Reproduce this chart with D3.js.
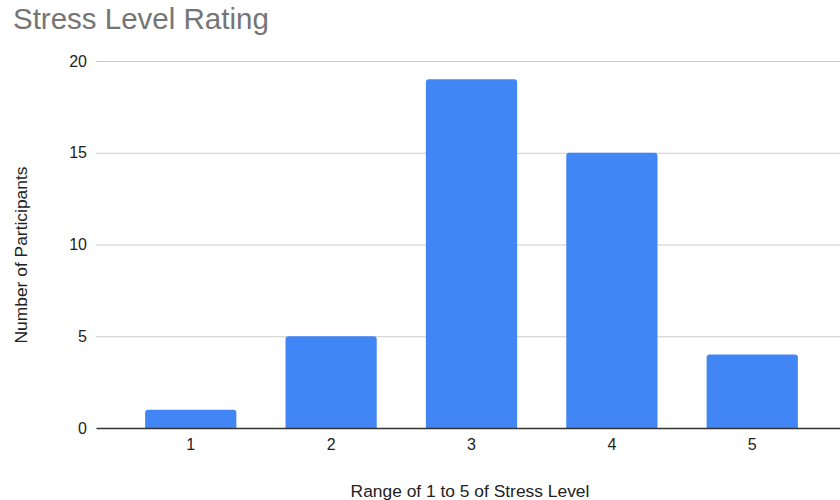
<!DOCTYPE html>
<html>
<head>
<meta charset="utf-8">
<script src="https://cdn.jsdelivr.net/npm/d3@7"></script>
<style>
  html, body { margin: 0; padding: 0; background: #fff; }
  svg { display: block; font-family: "Liberation Sans", Arial, sans-serif; }
</style>
</head>
<body>
<svg id="chart" width="840" height="500"></svg>
<script>
// Stress level ratings (1–5) and how many participants chose each
const levels = ["1", "2", "3", "4", "5"];
const participants = [1, 5, 19, 15, 4];
const yTicks = [0, 5, 10, 15, 20];

const svg = d3.select("#chart");
const plot = { left: 96, right: 847, top: 61, bottom: 428 };
const FONT = "Liberation Sans, Arial, sans-serif";

const x = d3.scaleBand()
  .domain(levels)
  .range([plot.left, plot.right])
  .paddingInner(0.35)
  .paddingOuter(0.35);

const y = d3.scaleLinear()
  .domain([0, 20])
  .range([plot.bottom, plot.top]);

// Title
svg.append("text")
  .attr("x", 13)
  .attr("y", 29)
  .attr("font-size", 29.5)
  .attr("fill", "#757575")
  .text("Stress Level Rating");

// Horizontal gridlines with value labels
const yAxis = d3.axisLeft(y).tickValues(yTicks).tickSize(0).tickPadding(9);
const gy = svg.append("g").attr("transform", `translate(${plot.left},0)`).call(yAxis);
gy.select(".domain").remove();
gy.selectAll(".tick text").attr("font-size", 16).attr("fill", "#222").attr("font-family", FONT);
gy.selectAll(".tick").filter(d => d !== 0)
  .append("line")
  .attr("x1", 0).attr("x2", plot.right - plot.left)
  .attr("stroke", "#cccccc").attr("stroke-width", 1);

// Bars with slightly rounded tops
svg.append("g").selectAll("path")
  .data(levels.map((l, i) => ({ level: l, value: participants[i] })))
  .join("path")
  .attr("fill", "#4285f4")
  .attr("d", d => {
    const x0 = x(d.level), w = x.bandwidth();
    const y0 = y(d.value), yb = y(0), r = 3;
    return `M${x0},${yb}V${y0 + r}Q${x0},${y0} ${x0 + r},${y0}H${x0 + w - r}Q${x0 + w},${y0} ${x0 + w},${y0 + r}V${yb}Z`;
  });

// Baseline axis with category labels
const xAxis = d3.axisBottom(x).tickSize(0).tickPadding(11);
const gx = svg.append("g").attr("transform", `translate(0,${plot.bottom})`).call(xAxis);
gx.select(".domain").attr("stroke", "#333").attr("stroke-width", 1.5);
gx.selectAll(".tick text").attr("font-size", 16).attr("fill", "#222").attr("font-family", FONT);

// Axis titles
svg.append("text")
  .attr("x", 470)
  .attr("y", 497)
  .attr("text-anchor", "middle")
  .attr("font-size", 17.4)
  .attr("fill", "#222")
  .text("Range of 1 to 5 of Stress Level");

svg.append("text")
  .attr("transform", `translate(27,255) rotate(-90)`)
  .attr("text-anchor", "middle")
  .attr("font-size", 17.4)
  .attr("fill", "#222")
  .text("Number of Participants");
</script>
</body>
</html>
